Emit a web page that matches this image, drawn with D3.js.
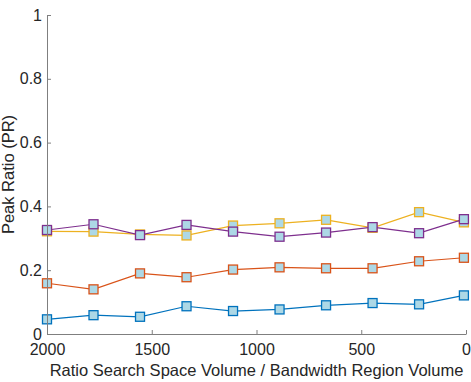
<!DOCTYPE html>
<html><head><meta charset="utf-8">
<script src="https://cdn.jsdelivr.net/npm/d3@7"></script>
<style>body{margin:0;background:#fff}svg{display:block}</style>
</head><body>
<script>
const xValues = [2000, 1778, 1556, 1334, 1112, 890, 668, 446, 224, 10];
const seriesBlue   = [0.046, 0.059, 0.054, 0.087, 0.072, 0.077, 0.090, 0.097, 0.093, 0.121];
const seriesOrange = [0.159, 0.140, 0.190, 0.178, 0.202, 0.209, 0.206, 0.206, 0.228, 0.239];
const seriesYellow = [0.322, 0.321, 0.312, 0.309, 0.340, 0.347, 0.358, 0.333, 0.382, 0.350];
const seriesPurple = [0.326, 0.344, 0.310, 0.342, 0.321, 0.305, 0.318, 0.335, 0.316, 0.360];
const xTicks = [2000, 1500, 1000, 500, 0];
const yTicks = [0, 0.2, 0.4, 0.6, 0.8, 1];
const colors = ["#0072BD", "#D95319", "#EDB120", "#7E2F8E"];

const W = 471, H = 382;
const m = {l: 47, r: 5, t: 15, b: 48};
const svg = d3.select("body").append("svg").attr("width", W).attr("height", H);
const x = d3.scaleLinear().domain([2000, 0]).range([m.l, W - m.r]);
const y = d3.scaleLinear().domain([0, 1]).range([H - m.b, m.t]);
const font = "'Liberation Sans', Arial, sans-serif";

const series = [seriesBlue, seriesOrange, seriesYellow, seriesPurple];
const line = d3.line().x((d, i) => x(xValues[i])).y(d => y(d));
series.forEach((s, k) => {
  svg.append("path").attr("d", line(s)).attr("fill", "none")
    .attr("stroke", colors[k]).attr("stroke-width", 1.2);
  svg.selectAll(null).data(s).enter().append("rect")
    .attr("x", (d, i) => x(xValues[i]) - 4.5).attr("y", d => y(d) - 4.5)
    .attr("width", 9).attr("height", 9)
    .attr("fill", "#ADD8E6").attr("stroke", colors[k]).attr("stroke-width", 1.3);
});

const axisColor = "#7f7f7f";
const gx = svg.append("g").attr("transform", `translate(0,${H - m.b})`)
  .call(d3.axisBottom(x).tickValues(xTicks).tickSize(-4).tickSizeOuter(0).tickPadding(10).tickFormat(d3.format("d")));
const gy = svg.append("g").attr("transform", `translate(${m.l},0)`)
  .call(d3.axisLeft(y).tickValues(yTicks).tickSize(-4).tickSizeOuter(0).tickPadding(5).tickFormat(d => d === 0 || d === 1 ? String(d) : d3.format(".1f")(d)));
[gx, gy].forEach(g => {
  g.select(".domain").attr("stroke", axisColor);
  g.selectAll(".tick line").attr("stroke", axisColor);
  g.selectAll(".tick text").attr("fill", "#262626").style("font-family", font).style("font-size", "16px");
});

svg.append("text").attr("x", (m.l + W - m.r) / 2).attr("y", 376)
  .attr("text-anchor", "middle").attr("fill", "#262626")
  .style("font-family", font).style("font-size", "16.5px")
  .text("Ratio Search Space Volume / Bandwidth Region Volume");
svg.append("text").attr("transform", `translate(14,${(m.t + H - m.b) / 2}) rotate(-90)`)
  .attr("text-anchor", "middle").attr("fill", "#262626")
  .style("font-family", font).style("font-size", "16.5px")
  .text("Peak Ratio (PR)");
</script>
</body></html>
